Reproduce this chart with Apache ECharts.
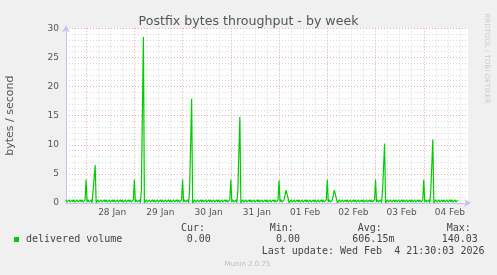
<!DOCTYPE html>
<html><head><meta charset="utf-8">
<script src="https://cdn.jsdelivr.net/npm/echarts@6/dist/echarts.min.js"></script>
<style>html,body{margin:0;padding:0;background:#f0f0f0;}#c{width:497px;height:275px;}</style>
</head><body><div id="c"></div>
<script>
// time axis: 30-minute steps starting Jan 27 14:00
const startTime = Date.UTC(2026, 0, 27, 14, 0);
const stepMinutes = 30;
const slotCount = 401;
const xTickLabels = ['28 Jan','29 Jan','30 Jan','31 Jan','01 Feb','02 Feb','03 Feb','04 Feb'];
const yTicks = [0, 5, 10, 15, 20, 25, 30];

// delivered volume (bytes / second), one row per day
const jan27 = [0.55,0.15,0.15,0.55,0.15,0.15,0.55,0.15,0.55,0.15,0.15,0.55,0.15,0.15,0.55,0.15,0.55,0.15,0.15,0.55];
const jan28 = [4.0,0.15,0.55,0.15,0.15,0.55,0.05,2.2,1.9,6.5,0.02,0.15,
  0.55,0.15,0.15,0.55,0.15,0.15,0.55,0.15,0.55,0.15,0.15,0.55,0.15,0.15,0.55,0.15,
  0.55,0.15,0.15,0.55,0.15,0.15,0.55,0.15,0.55,0.15,0.15,0.55,0.15,0.15,0.55,0.15,0.55,0.15,0.15,0.55];
const jan29 = [4.0,0.15,0.55,0.15,0.15,0.55,0.05,2.2,1.9,28.5,0.02,0.15,
  0.55,0.15,0.15,0.55,0.15,0.15,0.55,0.15,0.55,0.15,0.15,0.55,0.15,0.15,0.55,0.15,
  0.55,0.15,0.15,0.55,0.15,0.15,0.55,0.15,0.55,0.15,0.15,0.55,0.15,0.15,0.55,0.15,0.55,0.15,0.15,0.55];
const jan30 = [4.0,0.15,0.55,0.15,0.15,0.55,0.05,2.2,1.9,17.9,0.02,0.15,
  0.55,0.15,0.15,0.55,0.15,0.15,0.55,0.15,0.55,0.15,0.15,0.55,0.15,0.15,0.55,0.15,
  0.55,0.15,0.15,0.55,0.15,0.15,0.55,0.15,0.55,0.15,0.15,0.55,0.15,0.15,0.55,0.15,0.55,0.15,0.15,0.55];
const jan31 = [4.0,0.15,0.55,0.15,0.15,0.55,0.05,2.2,1.9,14.8,0.02,0.15,
  0.55,0.15,0.15,0.55,0.15,0.15,0.55,0.15,0.55,0.15,0.15,0.55,0.15,0.15,0.55,0.15,
  0.55,0.15,0.15,0.55,0.15,0.15,0.55,0.15,0.55,0.15,0.15,0.55,0.15,0.15,0.55,0.15,0.55,0.15,0.15,0.55];
const feb01 = [3.9,0.15,0.55,0.15,0.15,0.55,0.8,2.2,1.9,0.8,0.02,0.15,
  0.55,0.15,0.15,0.55,0.15,0.15,0.55,0.15,0.55,0.15,0.15,0.55,0.15,0.15,0.55,0.15,
  0.55,0.15,0.15,0.55,0.15,0.15,0.55,0.15,0.55,0.15,0.15,0.55,0.15,0.15,0.55,0.15,0.55,0.15,0.15,0.55];
const feb02 = [4.0,0.15,0.55,0.15,0.15,0.55,0.8,2.2,1.9,0.8,0.02,0.15,
  0.55,0.15,0.15,0.55,0.15,0.15,0.55,0.15,0.55,0.15,0.15,0.55,0.15,0.15,0.55,0.15,
  0.55,0.15,0.15,0.55,0.15,0.15,0.55,0.15,0.55,0.15,0.15,0.55,0.15,0.15,0.55,0.15,0.55,0.15,0.15,0.55];
const feb03 = [4.0,0.15,0.55,0.15,0.15,0.55,0.05,2.2,1.9,10.2,0.02,0.15,
  0.55,0.15,0.15,0.55,0.15,0.15,0.55,0.15,0.55,0.15,0.15,0.55,0.15,0.15,0.55,0.15,
  0.55,0.15,0.15,0.55,0.15,0.15,0.55,0.15,0.55,0.15,0.15,0.55,0.15,0.15,0.55,0.15,0.55,0.15,0.15,0.55];
const feb04 = [4.0,0.15,0.55,0.15,0.15,0.55,0.05,2.2,1.9,10.9,0.02,0.15,
  0.55,0.15,0.15,0.55,0.15,0.15,0.55,0.15,0.55,0.15,0.15,0.55,0.15,0.15,0.55,0.15,
  0.55,0.15,0.15,0.55,0.15,0.15,0.55,null,null];

const seriesName = 'delivered volume';
const statLabels = ['Cur:', 'Min:', 'Avg:', 'Max:'];
const statValues = ['0.00', '0.00', '606.15m', '140.03'];
const lastUpdate = 'Last update: Wed Feb  4 21:30:03 2026';

const values = [].concat(jan27, jan28, jan29, jan30, jan31, feb01, feb02, feb03, feb04);
const categories = [];
for (let i = 0; i < slotCount; i++) {
  categories.push(new Date(startTime + i * stepMinutes * 60000).toISOString().slice(0, 16));
}
const labelMap = {};
xTickLabels.forEach((t, k) => { labelMap[categories[44 + 48 * k]] = t; });

const MAJOR = '#e8a8a8', MINOR = '#d8d8d8', AXIS = '#c4c4ec';
const chart = echarts.init(document.getElementById('c'), null, {renderer: 'canvas'});
chart.setOption({
  animation: false,
  backgroundColor: '#f0f0f0',
  textStyle: {fontFamily: 'DejaVu Sans'},
  title: {text: 'Postfix bytes throughput - by week', left: 'center', top: 10,
    textStyle: {fontSize: 12.6, fontWeight: 'normal', color: '#555', fontFamily: 'DejaVu Sans'}},
  grid: {left: 66, right: 29, top: 28.3, bottom: 72, show: true, backgroundColor: '#fff', borderWidth: 0,
    containLabel: false, outerBoundsMode: 'none'},
  xAxis: [{
    type: 'category', data: categories, boundaryGap: false,
    axisLine: {show: true, lineStyle: {color: AXIS}, symbol: ['none', 'arrow'], symbolSize: [6, 7], symbolOffset: [0, 3]},
    axisTick: {show: false},
    axisLabel: {interval: (i) => i >= 44 && (i - 44) % 48 === 0, formatter: (v) => labelMap[v] || '',
      fontSize: 9, color: '#555', margin: 5, padding: [0, 0, 0, 4]},
    splitLine: {show: true, interval: (i) => i >= 8 && (i - 8) % 12 === 0 && (i - 20) % 48 !== 0,
      lineStyle: {color: MINOR, type: [1, 2]}}
  }, {
    type: 'category', data: categories, boundaryGap: false,
    axisLine: {show: false}, axisTick: {show: false}, axisLabel: {show: false},
    splitLine: {show: true, interval: (i) => i >= 20 && (i - 20) % 48 === 0,
      lineStyle: {color: MAJOR, type: [1, 2]}}
  }],
  yAxis: {
    type: 'value', min: yTicks[0], max: yTicks[yTicks.length - 1], interval: 5,
    axisLine: {show: true, lineStyle: {color: AXIS}, symbol: ['none', 'arrow'], symbolSize: [6, 7], symbolOffset: [0, 3]},
    axisTick: {show: false},
    axisLabel: {fontSize: 9, color: '#555', margin: 7},
    splitLine: {show: true, lineStyle: {color: MAJOR, type: [1, 2]}},
    minorTick: {show: false, splitNumber: 5},
    minorSplitLine: {show: true, lineStyle: {color: MINOR, type: [1, 2]}},
    name: 'bytes / second', nameLocation: 'middle', nameGap: 50,
    nameTextStyle: {fontSize: 11, color: '#555'}
  },
  series: [{
    name: seriesName, type: 'line', data: values, xAxisIndex: 0,
    showSymbol: false, symbol: 'none', connectNulls: false,
    lineStyle: {color: '#00cc00', width: 1.2}, itemStyle: {color: '#00cc00'}
  }],
  graphic: [
    {type: 'rect', shape: {x: 14, y: 237, width: 5, height: 5}, style: {fill: '#00cc00'}},
    {type: 'text', x: 26, y: 239.5, style: {text: seriesName, font: '10px "DejaVu Sans Mono"', fill: '#444', verticalAlign: 'middle'}},
    {type: 'text', x: 181, y: 228.5, style: {text: statLabels[0], font: '10px "DejaVu Sans Mono"', fill: '#444', verticalAlign: 'middle'}},
    {type: 'text', x: 269.7, y: 228.5, style: {text: statLabels[1], font: '10px "DejaVu Sans Mono"', fill: '#444', verticalAlign: 'middle'}},
    {type: 'text', x: 357.7, y: 228.5, style: {text: statLabels[2], font: '10px "DejaVu Sans Mono"', fill: '#444', verticalAlign: 'middle'}},
    {type: 'text', x: 446.7, y: 228.5, style: {text: statLabels[3], font: '10px "DejaVu Sans Mono"', fill: '#444', verticalAlign: 'middle'}},
    {type: 'text', x: 186.7, y: 239.5, style: {text: statValues[0], font: '10px "DejaVu Sans Mono"', fill: '#444', verticalAlign: 'middle'}},
    {type: 'text', x: 276, y: 239.5, style: {text: statValues[1], font: '10px "DejaVu Sans Mono"', fill: '#444', verticalAlign: 'middle'}},
    {type: 'text', x: 352.3, y: 239.5, style: {text: statValues[2], font: '10px "DejaVu Sans Mono"', fill: '#444', verticalAlign: 'middle'}},
    {type: 'text', x: 441.7, y: 239.5, style: {text: statValues[3], font: '10px "DejaVu Sans Mono"', fill: '#444', verticalAlign: 'middle'}},
    {type: 'text', x: 261.7, y: 251, style: {text: lastUpdate, font: '10px "DejaVu Sans Mono"', fill: '#444', verticalAlign: 'middle'}},
    {type: 'text', x: 247.5, y: 264, style: {text: 'Munin 2.0.75', font: '7px "DejaVu Sans"', fill: '#bbb', align: 'center', verticalAlign: 'middle'}},
    {type: 'text', x: 487, y: 58.5, rotation: -Math.PI / 2, style: {text: 'RRDTOOL / TOBI OETIKER', font: '7px "DejaVu Sans"', fill: '#ccc', align: 'center', verticalAlign: 'middle'}}
  ]
});
</script>
</body></html>
